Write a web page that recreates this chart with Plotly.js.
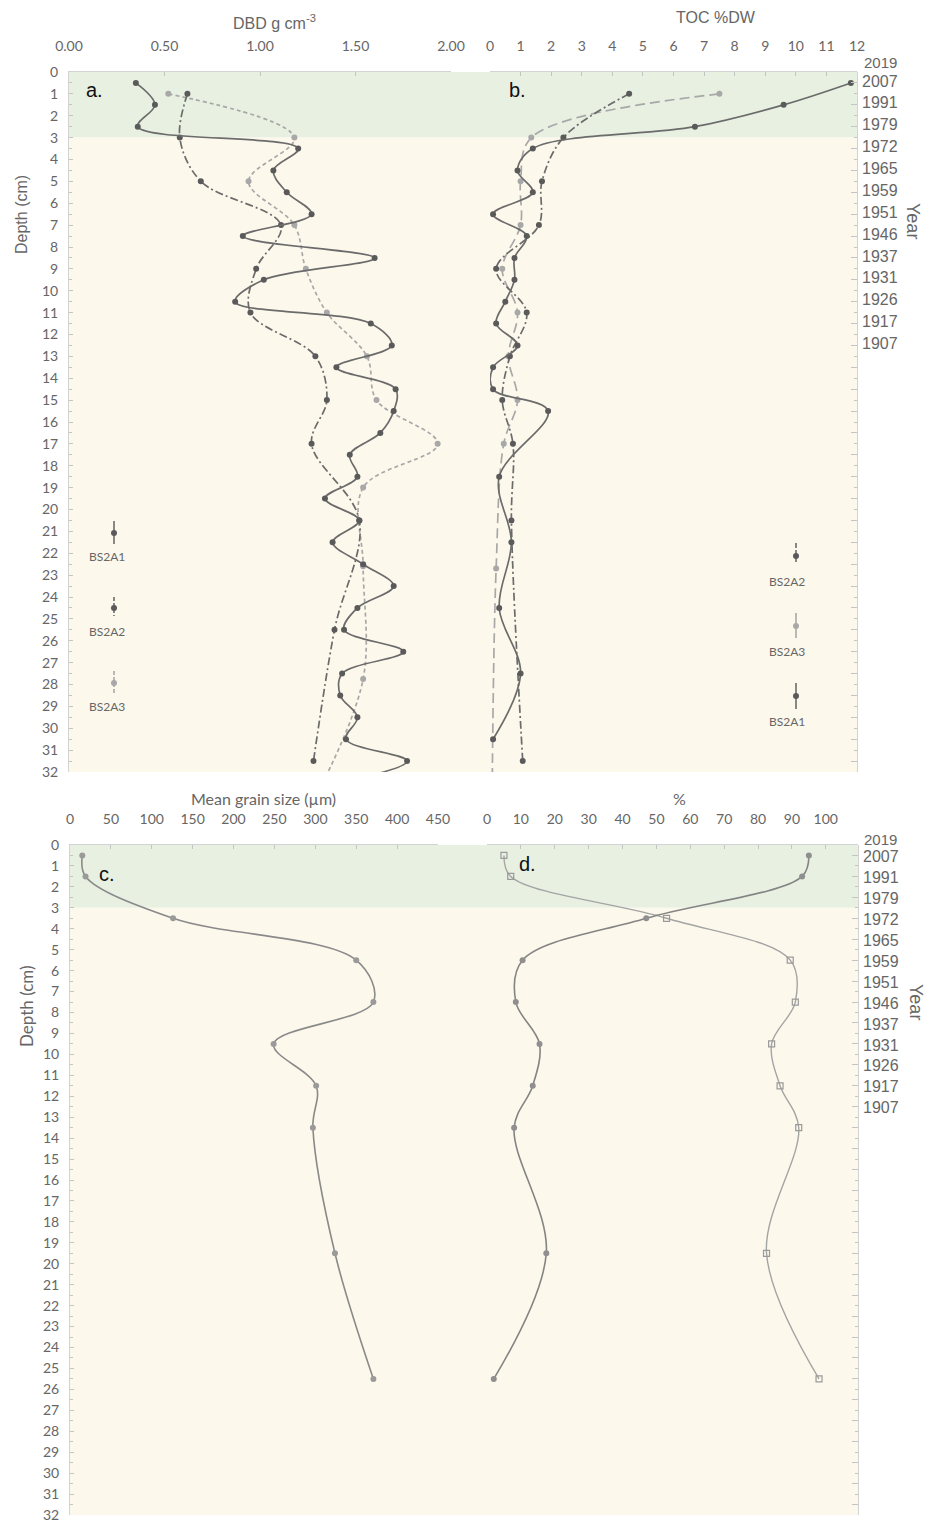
<!DOCTYPE html>
<html>
<head>
<meta charset="utf-8">
<script src="https://cdn.plot.ly/plotly-3.0.1.min.js"></script>
<style>html,body{margin:0;padding:0;background:#fff;}#chart{width:927px;height:1521px;}</style>
</head>
<body>
<div id="chart"></div>
<script>
// ---------------- DATA ----------------
// Panel a: dry bulk density (g cm-3) by depth (cm)
const dbdDepthA1 = [0.5,1.5,2.5,3.5,4.5,5.5,6.5,7.5,8.5,9.5,10.5,11.5,12.5,13.5,14.5,15.5,16.5,17.5,18.5,19.5,20.5,21.5,22.5,23.5,24.5,25.5,26.5,27.5,28.5,29.5,30.5,31.5,32.5];
const dbdA1 = [0.35,0.45,0.36,1.20,1.07,1.14,1.27,0.91,1.60,1.02,0.87,1.58,1.69,1.40,1.71,1.70,1.63,1.47,1.51,1.34,1.52,1.38,1.54,1.70,1.51,1.44,1.75,1.43,1.42,1.51,1.45,1.77,1.40];
const dbdDepthA2 = [1,3,5,7,9,11,13,15,17,20.5,25.5,31.5];
const dbdA2 = [0.62,0.58,0.69,1.11,0.98,0.95,1.29,1.35,1.27,1.52,1.39,1.28];
const dbdDepthA3 = [1,3,5,7,9,11,13,15,17,19,22.6,27.75,33];
const dbdA3 = [0.52,1.18,0.94,1.18,1.24,1.35,1.56,1.61,1.93,1.54,1.54,1.54,1.30];

// Panel b: TOC (%DW)
const tocDepthA1 = [0.5,1.5,2.5,3.5,4.5,5.5,6.5,7.5,8.5,9.5,10.5,11.5,12.5,13.5,14.5,15.5,18.5,21.5,24.5,27.5,30.5];
const tocA1 = [11.8,9.6,6.7,1.4,0.9,1.4,0.1,1.2,0.8,0.8,0.5,0.2,0.9,0.1,0.1,1.9,0.3,0.7,0.3,1.0,0.1];
const tocDepthA2 = [1,3,5,7,9,11,13,15,17,20.5,31.5];
const tocA2 = [4.55,2.4,1.7,1.6,0.2,1.2,0.65,0.4,0.75,0.7,1.07];
const tocDepthA3 = [1,3,5,7,9,11,13,15,17,22.7,33];
const tocA3 = [7.5,1.35,1.0,1.0,0.4,0.9,0.6,0.9,0.45,0.2,0.07];

// Panels c & d: grain size
const grainDepth = [0.5,1.5,3.5,5.5,7.5,9.5,11.5,13.5,19.5,25.5];
const meanGrain = [15,19,126,350,371,249,301,297,324,371];
const pctSquares = [5,7,53,89.5,91,84,86.5,92,82.5,98];
const pctCircles = [95,93,47,10.5,8.5,15.5,13.5,8,17.5,2];

// Year axis labels (at sample mid-depths)
const yearTop = "2019";
const yearLabels = ["2007","1991","1979","1972","1965","1959","1951","1946","1937","1931","1926","1917","1907"];
const legendNamesA = ["BS2A1","BS2A2","BS2A3"];
const legendNamesB = ["BS2A2","BS2A3","BS2A1"];

// ---------------- LAYOUT HELPERS ----------------
const W = 927, H = 1521;
const fx = p => p / W;
const fy = p => 1 - p / H;

const DARK = '#6b6b6b', DARKM = '#5a5a5a', LIGHT = '#a8a8a8';
const GREEN = '#e7f0e1', CREAM = '#fdf8ec';
const AXL = '#d3d3d3', TKC = '#c4c4c4', TXT = '#666666';

const yearVals = yearLabels.map((_, i) => i + 0.5);

function xAx(d0, d1, range, dtick, anchor, fmt) {
  return {domain:[fx(d0), fx(d1)], range:range, side:'top', anchor:anchor, tick0:0, dtick:dtick,
    tickformat:fmt, ticks:'inside', ticklen:4, tickcolor:TKC, showline:true, linecolor:AXL, linewidth:1,
    showgrid:false, zeroline:false, ticklabelstandoff:14,
    tickfont:{family:'Lato, sans-serif', size:14, color:TXT}, fixedrange:true};
}
function yAx(p0, p1, anchor) {
  return {domain:[fy(p1), fy(p0)], range:[32,0], anchor:anchor, side:'left', tick0:0, dtick:1,
    ticks:'inside', ticklen:4, tickcolor:TKC,
    minor:{tick0:0, dtick:0.5, ticks:'inside', ticklen:3, tickcolor:TKC},
    showline:true, linecolor:AXL, linewidth:1, showgrid:false, zeroline:false, ticklabelstandoff:7,
    ticklabeloverflow:'allow',
    tickfont:{family:'Lato, sans-serif', size:14, color:TXT}, fixedrange:true};
}
// year labels (text only)
function yearAx(over, pos, shift) {
  return {overlaying:over, side:'right', anchor:'free', position:fx(pos), range:[32,0],
    tickmode:'array', tickvals:yearVals, ticktext:yearLabels, ticks:'', showline:false,
    showgrid:false, zeroline:false, ticklabelstandoff:4, ticklabelshift:shift,
    tickfont:{family:'Liberation Sans, Arial, sans-serif', size:16, color:TXT}, fixedrange:true};
}
// right axis line + tick marks (no labels)
function tickAx(over, pos) {
  return {overlaying:over, side:'right', anchor:'free', position:fx(pos), range:[32,0],
    tickmode:'linear', tick0:0.5, dtick:1, ticks:'inside', ticklen:6, tickcolor:TKC, showticklabels:false,
    minor:{tickmode:'linear', tick0:0, dtick:1, ticks:'inside', ticklen:3, tickcolor:TKC},
    showline:true, linecolor:AXL, linewidth:1, showgrid:false, zeroline:false, fixedrange:true};
}

function line(x, y, xa, ya, color, dash, mcolor, msym, msize, width) {
  return {type:'scatter', mode:'lines+markers', x:x, y:y, xaxis:xa, yaxis:ya,
    line:{color:color, width:width||1.7, dash:dash, shape:'spline', smoothing:1},
    marker:{color:mcolor, size:msize||6, symbol:msym||'circle', line:{width:msym==='square-open'?1.2:0, color:mcolor}},
    cliponaxis:true, hoverinfo:'x+y', showlegend:false};
}
function dummy(xa, ya) {
  return {type:'scatter', x:[null], y:[null], xaxis:xa, yaxis:ya, mode:'markers', showlegend:false, hoverinfo:'skip'};
}

const traces = [
  line(dbdA3, dbdDepthA3, 'x', 'y', LIGHT, '4px,3px', LIGHT),
  line(dbdA2, dbdDepthA2, 'x', 'y', DARK, '8px,3px,2px,3px', DARKM),
  line(dbdA1, dbdDepthA1, 'x', 'y', DARK, 'solid', DARKM),
  line(tocA3, tocDepthA3, 'x2', 'y', LIGHT, '10px,5px', LIGHT),
  line(tocA2, tocDepthA2, 'x2', 'y', DARK, '8px,3px,2px,3px', DARKM),
  line(tocA1, tocDepthA1, 'x2', 'y', DARK, 'solid', DARKM),
  line(meanGrain, grainDepth, 'x3', 'y2', '#8a8a8a', 'solid', '#9a9a9a', 'circle', 6, 1.6),
  line(pctSquares, grainDepth, 'x4', 'y2', '#a4a4a4', 'solid', '#9a9a9a', 'square-open', 6, 1.4),
  line(pctCircles, grainDepth, 'x4', 'y2', '#848484', 'solid', '#8f8f8f', 'circle', 6, 1.6),
  dummy('x2', 'y3'), dummy('x2', 'y5'), dummy('x4', 'y4'), dummy('x4', 'y6')
];

// ---------------- SHAPES ----------------
const shapes = [
  {type:'rect', xref:'paper', yref:'y', x0:fx(69), x1:fx(857), y0:0, y1:3, fillcolor:GREEN, line:{width:0}, layer:'below'},
  {type:'rect', xref:'paper', yref:'y', x0:fx(69), x1:fx(857), y0:3, y1:32, fillcolor:CREAM, line:{width:0}, layer:'below'},
  {type:'rect', xref:'paper', yref:'y2', x0:fx(70), x1:fx(858), y0:0, y1:3, fillcolor:GREEN, line:{width:0}, layer:'below'},
  {type:'rect', xref:'paper', yref:'y2', x0:fx(70), x1:fx(858), y0:3, y1:32, fillcolor:CREAM, line:{width:0}, layer:'below'}
];
function legendGlyph(cx, top, bot, mid, color, dash, mcolor) {
  shapes.push({type:'line', xref:'paper', yref:'paper', x0:fx(cx), x1:fx(cx), y0:fy(top), y1:fy(bot),
    line:{color:color, width:1.6, dash:dash}});
  shapes.push({type:'circle', xref:'paper', yref:'paper', x0:fx(cx-3), x1:fx(cx+3), y0:fy(mid+3), y1:fy(mid-3),
    fillcolor:mcolor, line:{width:0}});
}
legendGlyph(114, 521, 544, 533, DARK, 'solid', DARKM);
legendGlyph(114, 597, 616, 608, DARK, '4px,2px', DARKM);
legendGlyph(114, 671, 695, 683, LIGHT, '4px,2px', LIGHT);
legendGlyph(796, 543, 564, 556, DARK, '5px,2px', DARKM);
legendGlyph(796, 613, 638, 626, LIGHT, 'solid', LIGHT);
legendGlyph(796, 683, 709, 696, DARK, 'solid', DARKM);

// ---------------- ANNOTATIONS ----------------
const ARIAL = 'Liberation Sans, Arial, sans-serif';
function ann(text, x, y, opts) {
  return Object.assign({text:text, xref:'paper', yref:'paper', x:fx(x), y:fy(y), showarrow:false,
    xanchor:'center', yanchor:'middle', font:{family:ARIAL, size:16, color:TXT}}, opts || {});
}
const annotations = [
  ann('DBD g cm<sup>-3</sup>', 274, 22),
  ann('TOC %DW', 716, 17),
  ann('Mean grain size (µm)', 263, 798, {font:{family:'Lato, sans-serif', size:16, color:TXT}}),
  ann('%', 679, 798, {font:{family:'Lato, sans-serif', size:16, color:TXT}}),
  ann('Depth (cm)', 21, 215, {textangle:-90}),
  ann('Depth (cm)', 26, 1006, {textangle:-90, font:{family:'Lato, sans-serif', size:17, color:TXT}}),
  ann('Year', 913, 221, {textangle:90, font:{family:ARIAL, size:18, color:TXT}}),
  ann('Year', 916, 1002, {textangle:90, font:{family:ARIAL, size:18, color:TXT}}),
  ann(yearTop, 862, 63, {xanchor:'left', font:{family:ARIAL, size:15, color:TXT}}),
  ann(yearTop, 862, 839, {xanchor:'left', font:{family:ARIAL, size:15, color:TXT}}),
  ann('a.', 94, 90, {font:{family:ARIAL, size:20, color:'#111'}}),
  ann('b.', 517, 90, {font:{family:ARIAL, size:20, color:'#111'}}),
  ann('c.', 107, 874, {font:{family:ARIAL, size:20, color:'#111'}}),
  ann('d.', 527, 864, {font:{family:ARIAL, size:20, color:'#111'}})
];
const lgA = [556, 631, 706], lgB = [581, 651, 721];
legendNamesA.forEach((n, i) => annotations.push(ann(n, 107, lgA[i], {font:{family:'Lato, sans-serif', size:12, color:TXT}})));
legendNamesB.forEach((n, i) => annotations.push(ann(n, 787, lgB[i], {font:{family:'Lato, sans-serif', size:12, color:TXT}})));

const layout = {
  width:W, height:H, autosize:false,
  margin:{l:0, r:0, t:0, b:0, pad:0},
  paper_bgcolor:'#ffffff', plot_bgcolor:'rgba(0,0,0,0)',
  showlegend:false,
  font:{family:'Lato, sans-serif', color:TXT},
  xaxis: xAx(69, 451, [0,2], 0.5, 'y', '.2f'),
  xaxis2: xAx(490, 857, [0,12], 1, 'y', ''),
  xaxis3: xAx(70, 438, [0,450], 50, 'y2', ''),
  xaxis4: xAx(487, 858, [0,109.5], 10, 'y2', ''),
  yaxis: yAx(72, 772, 'x'),
  yaxis2: yAx(845, 1515, 'x3'),
  yaxis3: yearAx('y', 857, 2),
  yaxis4: yearAx('y2', 858, -1),
  yaxis5: tickAx('y', 857),
  yaxis6: tickAx('y2', 858),
  shapes:shapes,
  annotations:annotations
};

Plotly.newPlot('chart', traces, layout, {staticPlot:true, displayModeBar:false});
</script>
</body>
</html>
